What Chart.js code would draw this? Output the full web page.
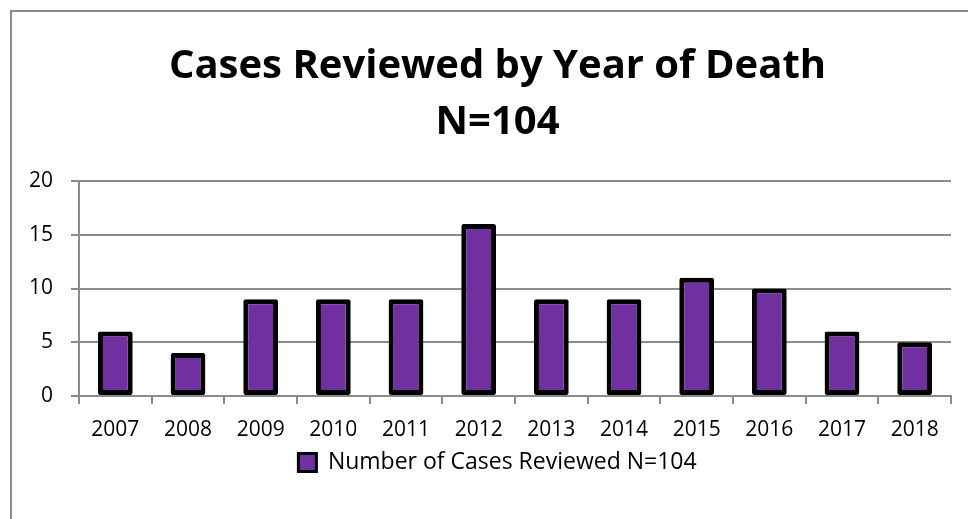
<!DOCTYPE html>
<html>
<head>
<meta charset="utf-8">
<script src="https://cdn.jsdelivr.net/npm/chart.js@4.4.0/dist/chart.umd.min.js"></script>
<style>
  html, body { margin: 0; padding: 0; background: #fff; }
  #wrap { position: relative; width: 968px; height: 519px; overflow: hidden; }
  #frame { position: absolute; left: 10px; top: 10px; width: 980px; height: 540px; border: 2px solid #8c8c8c; box-sizing: border-box; }
  canvas { position: absolute; left: 0; top: 0; }
</style>
</head>
<body>
<div id="wrap">
  <div id="frame"></div>
  <canvas id="myChart" width="968" height="519"></canvas>
</div>
<script>
//data
var years = ['2007', '2008', '2009', '2010', '2011', '2012', '2013', '2014', '2015', '2016', '2017', '2018']
var cases = [6, 4, 9, 9, 9, 16, 9, 9, 11, 10, 6, 5]
var seriesName = 'Number of Cases Reviewed N=104'
var titleLines = ['Cases Reviewed by Year of Death', 'N=104']

var font = "'Open Sans', sans-serif"
var gridGray = '#8c8c8c'

var ctx = document.getElementById('myChart')
var myChart = new Chart(ctx, {
    type: 'bar',
    data: {
        labels: years,
        datasets: [{
            label: seriesName,
            data: cases,
            backgroundColor: '#7030a0',
            borderColor: '#000000',
            borderWidth: 5,
            borderSkipped: false,
            borderRadius: 2,
            barPercentage: 0.92,
            categoryPercentage: 0.52
        }]
    },
    options: {
        responsive: false,
        animation: false,
        //left padding pushes title + legend to the right like the original
        layout: { padding: { left: 44, right: 17, top: 0, bottom: 35 } },
        plugins: {
            title: {
                display: true,
                text: titleLines,
                color: '#000',
                font: { family: font, size: 40, weight: 'bold', lineHeight: 1.4 },
                padding: { top: 39, bottom: 30 }
            },
            legend: {
                position: 'bottom',
                labels: {
                    color: '#000',
                    font: { family: font, size: 23 },
                    boxWidth: 18,
                    boxHeight: 18,
                    padding: 10,
                    generateLabels: function (chart) { //thinner border on the legend key
                        var items = Chart.defaults.plugins.legend.labels.generateLabels(chart)
                        items.forEach(function (it) { it.lineWidth = 3 })
                        return items
                    }
                }
            },
            tooltip: { enabled: false }
        },
        scales: {
            x: {
                grid: { drawOnChartArea: false, drawTicks: true, tickLength: 8, color: gridGray, lineWidth: 2 },
                border: { color: gridGray, width: 2 },
                ticks: { color: '#000', font: { family: font, size: 21 }, padding: 13, maxRotation: 0 },
                afterFit: function (scale) { scale.height = 45 }
            },
            y: {
                min: 0,
                max: 20,
                //mirror + negative padding so the labels sit left of the axis box without being clipped
                ticks: { stepSize: 5, color: '#000', font: { family: font, size: 21 }, mirror: true, crossAlign: 'far', padding: -50 },
                grid: { color: gridGray, lineWidth: 2, tickLength: 8 },
                border: { color: gridGray, width: 2 },
                afterFit: function (scale) { scale.width = 35 }
            }
        }
    }
})
</script>
</body>
</html>
